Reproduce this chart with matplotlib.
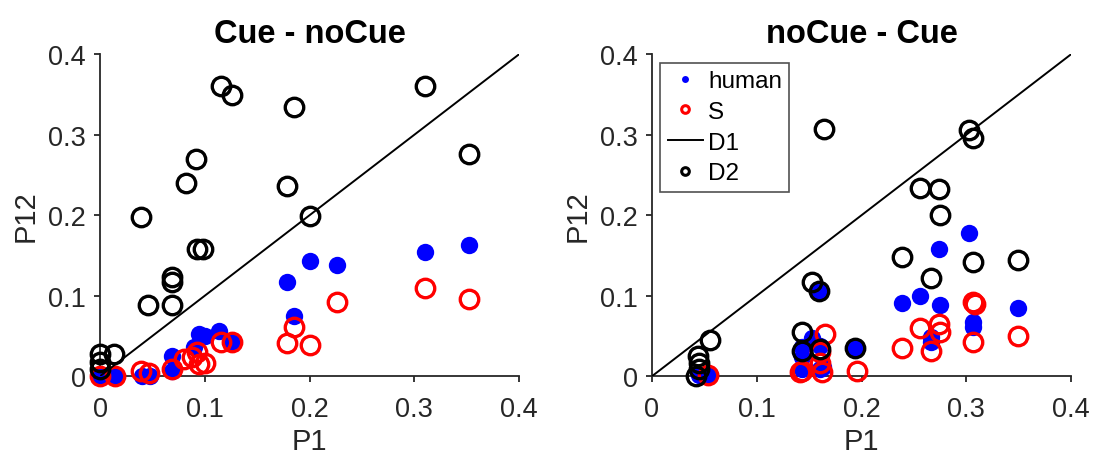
import matplotlib
matplotlib.use("Agg")
import matplotlib.pyplot as plt
from matplotlib.lines import Line2D

plt.rcParams['font.family'] = ['Liberation Sans', 'DejaVu Sans']

# ---------------- data ----------------
ticks = [0, 0.1, 0.2, 0.3, 0.4]
tick_labels = ["0", "0.1", "0.2", "0.3", "0.4"]
titles = ["Cue - noCue", "noCue - Cue"]
diag = [0, 0.4]

cue_human_x = [0, 0.014, 0.040, 0.048, 0.069, 0.069, 0.090, 0.094, 0.100, 0.114, 0.126,
               0.178, 0.200, 0.226, 0.185, 0.310, 0.352]
cue_human_y = [0, 0, 0, 0, 0.025, 0.006, 0.036, 0.052, 0.050, 0.056, 0.043,
               0.117, 0.143, 0.138, 0.075, 0.154, 0.163]

cue_s_x = [0, 0.014, 0.039, 0.047, 0.069, 0.080, 0.088, 0.093, 0.094, 0.100, 0.115, 0.126,
           0.185, 0.178, 0.200, 0.226, 0.310, 0.352]
cue_s_y = [0, 0, 0.006, 0.004, 0.009, 0.021, 0.024, 0.030, 0.015, 0.017, 0.042, 0.043,
           0.061, 0.041, 0.039, 0.092, 0.110, 0.096]

cue_d2_x = [0, 0.013, 0, 0, 0.039, 0.046, 0.069, 0.069, 0.069, 0.082, 0.092, 0.093, 0.098,
            0.115, 0.126, 0.185, 0.178, 0.200, 0.310, 0.352]
cue_d2_y = [0.027, 0.027, 0.018, 0.009, 0.198, 0.089, 0.089, 0.117, 0.123, 0.240, 0.270,
            0.158, 0.158, 0.360, 0.349, 0.334, 0.236, 0.199, 0.360, 0.276]

nocue_human_x = [0.045, 0.055, 0.143, 0.143, 0.143, 0.153, 0.160, 0.160, 0.159, 0.163, 0.194,
                 0.239, 0.256, 0.266, 0.266, 0.274, 0.275, 0.303, 0.306, 0.306, 0.349]
nocue_human_y = [0.001, 0.001, 0.036, 0.024, 0.009, 0.048, 0.038, 0.009, 0.106, 0.012, 0.035,
                 0.091, 0.100, 0.049, 0.042, 0.158, 0.088, 0.178, 0.067, 0.061, 0.085]

nocue_s_x = [0.053, 0.143, 0.141, 0.160, 0.162, 0.160, 0.165, 0.196, 0.239, 0.256, 0.266,
             0.274, 0.275, 0.306, 0.308, 0.306, 0.349]
nocue_s_y = [0.002, 0.006, 0.005, 0.017, 0.005, 0.030, 0.052, 0.006, 0.035, 0.060, 0.031,
             0.065, 0.055, 0.092, 0.090, 0.043, 0.050]

nocue_d2_x = [0.042, 0.045, 0.045, 0.044, 0.055, 0.143, 0.143, 0.153, 0.159, 0.160, 0.164,
              0.194, 0.239, 0.256, 0.266, 0.274, 0.275, 0.303, 0.306, 0.306, 0.349]
nocue_d2_y = [0.0, 0.009, 0.017, 0.025, 0.045, 0.055, 0.031, 0.117, 0.106, 0.034, 0.307,
              0.035, 0.148, 0.234, 0.122, 0.232, 0.200, 0.306, 0.296, 0.142, 0.144]

panels = [
    (cue_human_x, cue_human_y, cue_s_x, cue_s_y, cue_d2_x, cue_d2_y),
    (nocue_human_x, nocue_human_y, nocue_s_x, nocue_s_y, nocue_d2_x, nocue_d2_y),
]

# ---------------- figure ----------------
fig = plt.figure(figsize=(10.93, 4.60), dpi=100)
axes_rects = [[0.0915, 0.180, 0.3835, 0.700], [0.5965, 0.180, 0.3835, 0.700]]
axis_col = '#262626'

for i, (hx, hy, sx, sy, dx, dy) in enumerate(panels):
    ax = fig.add_axes(axes_rects[i])
    ax.plot(hx, hy, linestyle='none', marker='o', ms=12.5, mfc='blue', mec='blue',
            mew=0, clip_on=False, zorder=3)
    ax.plot(sx, sy, linestyle='none', marker='o', ms=13.3, mfc='none', mec='red',
            mew=2.4, clip_on=False, zorder=4)
    ax.plot(diag, diag, color='black', lw=1.4, zorder=5)
    ax.plot(dx, dy, linestyle='none', marker='o', ms=13.3, mfc='none', mec='black',
            mew=2.4, clip_on=False, zorder=6)

    ax.set_xlim(0, 0.4)
    ax.set_ylim(0, 0.4)
    ax.set_xticks(ticks)
    ax.set_xticklabels(tick_labels)
    ax.set_yticks(ticks)
    ax.set_yticklabels(tick_labels)
    for s in ['top', 'right']:
        ax.spines[s].set_visible(False)
    for s in ['left', 'bottom']:
        ax.spines[s].set_color(axis_col)
        ax.spines[s].set_linewidth(1.3)
    ax.tick_params(direction='out', length=4, width=1.3, colors=axis_col,
                   labelsize=19.5)
    ax.tick_params(axis='x', pad=10)
    ax.tick_params(axis='y', pad=6)
    ax.set_xlabel('P1', fontsize=21, color=axis_col, labelpad=4)
    ax.set_ylabel('P12', fontsize=21, color=axis_col, labelpad=6)
    ax.set_title(titles[i], fontsize=23.5, fontweight='bold', pad=9)

    if i == 1:
        handles = [
            Line2D([], [], linestyle='none', marker='o', ms=5, mfc='blue', mec='blue', mew=0),
            Line2D([], [], linestyle='none', marker='o', ms=5.5, mfc='none', mec='red', mew=2.2),
            Line2D([], [], color='black', lw=1.4),
            Line2D([], [], linestyle='none', marker='o', ms=5.5, mfc='none', mec='black', mew=2.2),
        ]
        leg = ax.legend(handles, ['human', 'S', 'D1', 'D2'], loc='upper left',
                        bbox_to_anchor=(0.0, 1.0), fontsize=17.5, frameon=True,
                        fancybox=False, edgecolor=axis_col, handlelength=1.45,
                        handletextpad=0.2, borderpad=0.3, labelspacing=0.36,
                        borderaxespad=0.35)
        leg.get_frame().set_linewidth(1.2)

fig.savefig('out.png', dpi=100)
